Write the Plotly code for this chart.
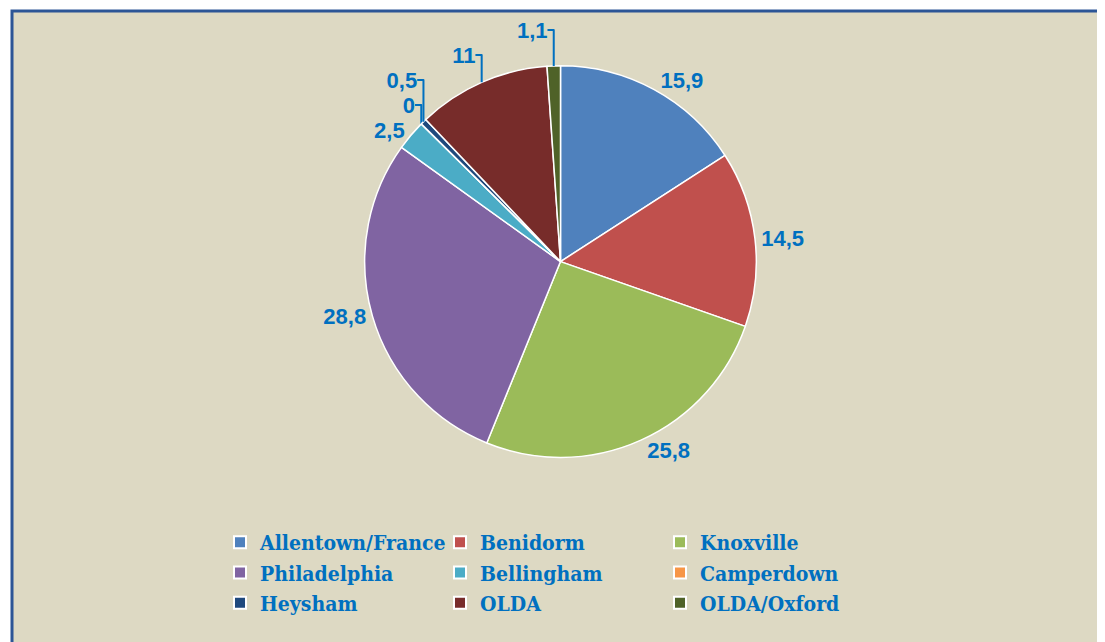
import plotly.graph_objects as go

categories = ["Allentown/France", "Benidorm", "Knoxville", "Philadelphia",
              "Bellingham", "Camperdown", "Heysham", "OLDA", "OLDA/Oxford"]
values = [15.9, 14.5, 25.8, 28.8, 2.5, 0, 0.5, 11, 1.1]
colors = ["#4F81BD", "#C0504D", "#9BBB59", "#8064A2", "#4BACC6",
          "#F79646", "#1F497D", "#772C2A", "#4F6228"]

labels_text = [f"{v:g}".replace(".", ",") for v in values]

W, H = 1105, 642
ML, MR = 120, 120
PW = W - ML - MR

fig = go.Figure(go.Pie(
    labels=categories,
    values=values,
    text=labels_text,
    textinfo="text",
    textposition="outside",
    sort=False,
    direction="clockwise",
    rotation=0,
    marker=dict(colors=colors, line=dict(color="white", width=1.5)),
    textfont=dict(family="Liberation Sans, Arial, sans-serif", size=22,
                  color="#0070C0", weight="bold"),
    domain=dict(x=[0.0, 1.0], y=[0.30, 0.91]),
    hoverinfo="label+value",
))

fig.add_shape(type="rect", xref="paper", yref="paper",
              x0=(4 - ML) / PW, y0=1 - 3 / H, x1=(W + 20 - ML) / PW, y1=-0.05,
              fillcolor="#DDD9C3", line=dict(color="#2C5596", width=3),
              layer="below")

fig.update_layout(
    width=W, height=H,
    margin=dict(l=ML, r=MR, t=0, b=0, autoexpand=False),
    paper_bgcolor="white",
    plot_bgcolor="#DDD9C3",
    showlegend=True,
    legend=dict(
        orientation="h",
        xref="container", yref="container",
        x=212 / W, xanchor="left",
        y=1 - 514 / H, yanchor="top",
        entrywidth=175, entrywidthmode="pixels",
        font=dict(family="DejaVu Serif Condensed, DejaVu Serif, serif", size=21,
                  color="#0070C0", weight="bold"),
        bgcolor="rgba(0,0,0,0)",
        itemsizing="constant",
    ),
)

fig.write_html("out.html")
